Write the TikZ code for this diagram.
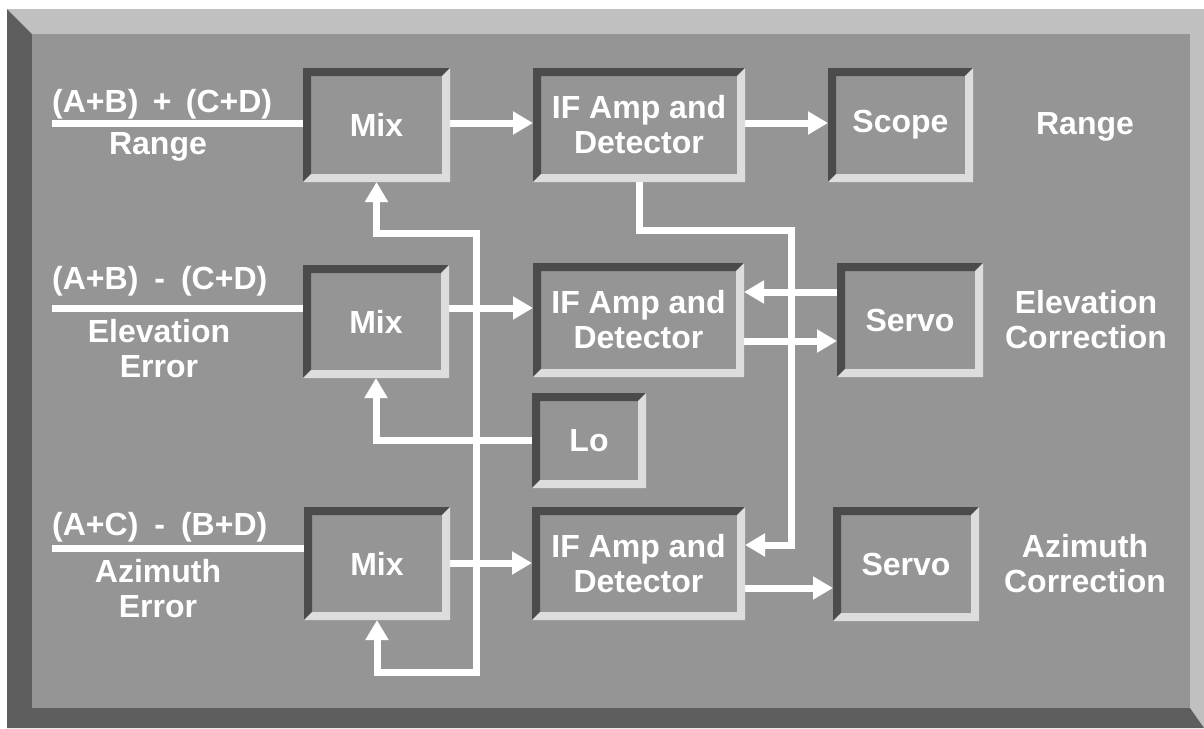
\documentclass[tikz,border=0pt]{standalone}
\usepackage{fontspec}
\setmainfont{Liberation Sans}
\usetikzlibrary{arrows.meta,calc}
\definecolor{face}{HTML}{959595}
\definecolor{rimlight}{HTML}{C0C0C0}
\definecolor{rimdark}{HTML}{5E5E5E}
\definecolor{bevdark}{HTML}{4B4B4B}
\definecolor{bevlight}{HTML}{DDDDDD}
\tikzset{
  lbl/.style={text=white, font=\fontsize{32}{35}\selectfont\bfseries, inner sep=0pt},
  boxnode/.style={lbl, draw=none, align=center, outer sep=0pt},
  wire/.style={draw=white, line width=7pt, line join=miter},
  arr/.style={wire, -{Triangle[length=20pt,width=22pt]}},
}
\newcommand\bbox[6]{%
  \node[boxnode, minimum width={#4pt-#2pt}, minimum height={#5pt-#3pt}]
    (#1) at ({(#2+#4)/2},{(#3+#5)/2}) {#6};}
\newcommand\bevelbox[1]{%
  \fill[bevdark] (#1.south west) -- (#1.north west) -- (#1.north east)
    -- ([xshift=-8pt,yshift=-8pt]#1.north east) -- ([xshift=8pt,yshift=-8pt]#1.north west)
    -- ([xshift=8pt,yshift=8pt]#1.south west) -- cycle;
  \fill[bevlight] (#1.north east) -- (#1.south east) -- (#1.south west)
    -- ([xshift=8pt,yshift=8pt]#1.south west) -- ([xshift=-8pt,yshift=8pt]#1.south east)
    -- ([xshift=-8pt,yshift=-8pt]#1.north east) -- cycle;}
\begin{document}
\begin{tikzpicture}[x=1pt,y=-1pt]
\useasboundingbox (0,0) rectangle (1204,728);
\fill[white] (0,0) rectangle (1204,728);
% frame
\fill[rimlight] (7,9) -- (1204,9) -- (1204,728) -- (1190,708) -- (1190,34) -- (32,34) -- cycle;
\fill[rimdark] (7,9) -- (32,34) -- (32,708) -- (1190,708) -- (1204,728) -- (7,728) -- cycle;
\fill[face] (32,34) rectangle (1190,708);

% boxes
\bbox{m1}{303}{68}{450}{182}{Mix}
\bbox{if1}{533}{68}{745}{182}{IF Amp and\\Detector}
\bbox{sc}{828}{68}{973}{182}{Scope}
\bbox{m2}{303}{265}{449}{378}{Mix}
\bbox{if2}{533}{263}{744}{377}{IF Amp and\\Detector}
\bbox{s1}{837}{263}{983}{377}{Servo}
\bbox{lo}{532}{393}{646}{488}{Lo}
\bbox{m3}{304}{507}{450}{620}{Mix}
\bbox{if3}{532}{507}{745}{620}{IF Amp and\\Detector}
\bbox{s2}{833}{507}{979}{621}{Servo}

% input labels
\node[lbl, anchor=base west] (inA) at (52,112) {(A+B)\hspace{0.45em}+\hspace{0.45em}(C+D)};
\node[lbl, anchor=base] (inAb) at (158,154) {Range};
\node[lbl, anchor=base west] (inB) at (52,289) {(A+B)\hspace{0.5em}-\hspace{0.5em}(C+D)};
\node[lbl, anchor=base, align=center] (inBb) at (159,377) {Elevation\\Error};
\node[lbl, anchor=base west] (inC) at (52,535) {(A+C)\hspace{0.5em}-\hspace{0.5em}(B+D)};
\node[lbl, anchor=base, align=center] (inCb) at (158,617) {Azimuth\\Error};

% output labels
\node[lbl, anchor=base] (outA) at (1085,134) {Range};
\node[lbl, anchor=base, align=center] (outB) at (1086,348) {Elevation\\Correction};
\node[lbl, anchor=base, align=center] (outC) at (1085,592) {Azimuth\\Correction};

% input lines
\coordinate (pA) at (52,123);
\coordinate (pB) at (52,308);
\coordinate (pC) at (52,548);
\draw[wire] (pA) -- (m1.west |- pA);
\draw[wire] (pB) -- (m2.west |- pB);
\draw[wire] (pC) -- (m3.west |- pC);

% LO bus
\coordinate (b1) at (476,233);
\coordinate (b2) at (476,672);
\draw[wire, {Triangle[length=20pt,width=22pt]}-{Triangle[length=20pt,width=22pt]}]
  (m1.south) |- (b1) -- (b2) -| (m3.south);
\draw[arr] (lo.west) -| (m2.south);

% mixers to IF
\draw[arr] (m1.east |- 0,123) -- (if1.west |- 0,123);
\draw[arr] (m2.east |- 0,308) -- (if2.west |- 0,308);
\draw[arr] (m3.east |- 0,563) -- (if3.west |- 0,563);

% IF to outputs
\draw[arr] (if1.east |- 0,123) -- (sc.west |- 0,123);
\draw[arr] (s1.west |- 0,292) -- (if2.east |- 0,292);
\draw[arr] (if2.east |- 0,341) -- (s1.west |- 0,341);
\draw[arr] (if3.east |- 0,588) -- (s2.west |- 0,588);

% IF1 to IF3 loop
\coordinate (c1) at (791,230);
\coordinate (c2) at (791,545);
\draw[arr] (if1.south) |- (c1) -- (c2) -- (if3.east |- c2);

% bevels
\bevelbox{m1}\bevelbox{if1}\bevelbox{sc}
\bevelbox{m2}\bevelbox{if2}\bevelbox{s1}\bevelbox{lo}
\bevelbox{m3}\bevelbox{if3}\bevelbox{s2}
\end{tikzpicture}
\end{document}
